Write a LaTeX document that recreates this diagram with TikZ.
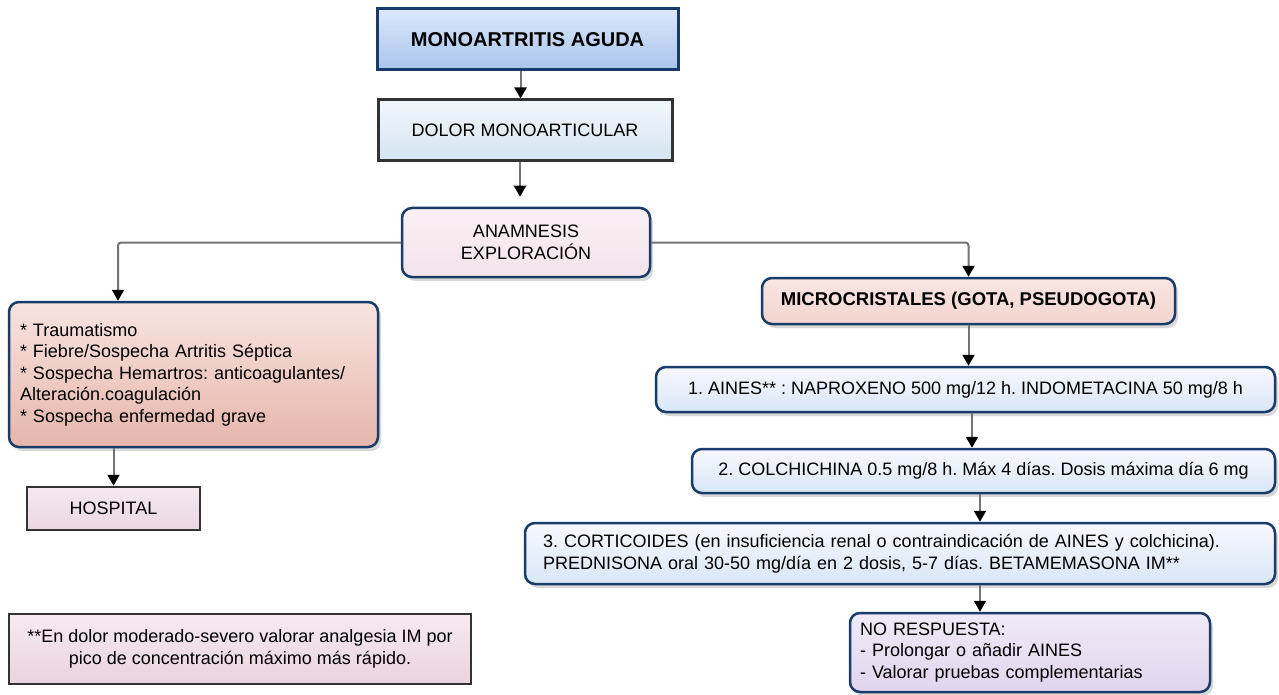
\documentclass[tikz,border=0pt]{standalone}
\usepackage{fontspec}
\setmainfont{Liberation Sans}
\usetikzlibrary{arrows.meta,shadows}
\definecolor{azulborde}{HTML}{1A3C6A}
\definecolor{grisborde}{HTML}{333333}
\frenchspacing
\tikzset{
  texto/.style={font=\fontsize{18}{21.5}\selectfont},
  negrita/.style={font=\fontsize{18.5}{21.5}\selectfont\bfseries},
  caja/.style={draw=grisborde, line width=3pt, texto},
  redonda/.style={draw=azulborde, line width=2.5pt, rounded corners=10pt, texto,
    drop shadow={shadow xshift=3pt, shadow yshift=-4pt, fill=black!30}},
  azulclaro/.style={top color=blue!3, bottom color={rgb,255:red,216;green,231;blue,245}},
  flecha/.style={draw=black!55, line width=2pt, -{Triangle[width=12pt,length=11pt,color=black]}},
}
\begin{document}
\begin{tikzpicture}[x=1pt,y=-1pt]
  \useasboundingbox (0,0) rectangle (1279,695);
  % columna central
  \node[caja, draw=azulborde, font=\fontsize{20}{22}\selectfont\bfseries, top color={rgb,255:red,218;green,232;blue,252},
        bottom color={rgb,255:red,169;green,196;blue,235}, minimum width=301pt, minimum height=61pt]
        (mono) at (527.5,39.5) {MONOARTRITIS AGUDA};
  \node[caja, top color={rgb,255:red,242;green,247;blue,252},
        bottom color={rgb,255:red,212;green,228;blue,242}, minimum width=294pt, minimum height=61pt]
        (dolor) at (525,130.5) {DOLOR MONOARTICULAR};
  \node[redonda, align=center, top color={rgb,255:red,250;green,240;blue,244},
        bottom color={rgb,255:red,243;green,227;blue,234}, minimum width=248pt, minimum height=69pt]
        (anam) at (526,242.5) {ANAMNESIS\\EXPLORACIÓN};
  % rama izquierda
  \node[redonda, align=left, text width=347pt, inner xsep=11pt, minimum height=145pt,
        top color={rgb,255:red,248;green,228;blue,224}, bottom color={rgb,255:red,230;green,182;blue,171}]
        (sosp) at (193.5,374.5) {* Traumatismo\\{}* Fiebre/Sospecha Artritis Séptica\\{}* Sospecha Hemartros: anticoagulantes/\\Alteración.coagulación\\{}* Sospecha enfermedad grave};
  \node[caja, line width=2.5pt, top color={rgb,255:red,245;green,233;blue,240},
        bottom color={rgb,255:red,234;green,214;blue,225}, minimum width=173pt, minimum height=43pt]
        (hosp) at (113.5,508.5) {HOSPITAL};
  \node[caja, line width=2.5pt, align=center, top color={rgb,255:red,246;green,234;blue,240},
        bottom color={rgb,255:red,234;green,211;blue,222}, minimum width=462pt, minimum height=70pt,
        font=\fontsize{18}{22.5}\selectfont]
        (nota) at (240,649) {**En dolor moderado-severo valorar analgesia IM por\\pico de concentración máximo más rápido.};
  % rama derecha
  \node[redonda, negrita, top color={rgb,255:red,249;green,230;blue,227},
        bottom color={rgb,255:red,243;green,212;blue,206}, minimum width=413pt, minimum height=46pt]
        (micro) at (968.5,301) {MICROCRISTALES (GOTA, PSEUDOGOTA)};
  \node[redonda, azulclaro, minimum width=619pt, minimum height=45pt]
        (aines) at (965.5,389.5) {1. AINES** : NAPROXENO 500 mg/12 h. INDOMETACINA 50 mg/8 h};
  \node[redonda, azulclaro, minimum width=583pt, minimum height=44pt]
        (colch) at (983.5,471) {2. COLCHICHINA 0.5 mg/8 h. Máx 4 días. Dosis máxima día 6 mg};
  \node[redonda, azulclaro, align=left, text width=714pt, inner xsep=18pt, minimum height=61pt]
        (cort) at (900,553.5) {3. CORTICOIDES (en insuficiencia renal o contraindicación de AINES y colchicina).\\PREDNISONA oral 30-50 mg/día en 2 dosis, 5-7 días. BETAMEMASONA IM**};
  \node[redonda, align=left, text width=340pt, inner xsep=10pt, minimum height=79pt,
        top color={rgb,255:red,240;green,234;blue,247}, bottom color={rgb,255:red,225;green,213;blue,238}]
        (nores) at (1030,652.5) {NO RESPUESTA:\\- Prolongar o añadir AINES\\- Valorar pruebas complementarias};
  % conectores
  \draw[flecha] ([xshift=-7pt]mono.south) -- ([xshift=-7pt]mono.south |- dolor.north);
  \draw[flecha, shorten >=10pt] ([xshift=-5pt]dolor.south) -- ([xshift=-5pt]dolor.south |- anam.north);
  \draw[flecha, rounded corners=3pt] (anam.west) -| ([xshift=-75.5pt]sosp.north);
  \draw[flecha, rounded corners=3pt] (anam.east) -| (micro.north);
  \draw[flecha] (hosp.north |- sosp.south) -- (hosp.north);
  \draw[flecha] (micro.south) -- (micro.south |- aines.north);
  \draw[flecha] ([xshift=6.5pt]aines.south) -- ([xshift=6.5pt]aines.south |- colch.north);
  \draw[flecha] ([xshift=-3.5pt]colch.south) -- ([xshift=-3.5pt]colch.south |- cort.north);
  \draw[flecha] ([xshift=-50pt]nores.north |- cort.south) -- ([xshift=-50pt]nores.north);
\end{tikzpicture}
\end{document}
